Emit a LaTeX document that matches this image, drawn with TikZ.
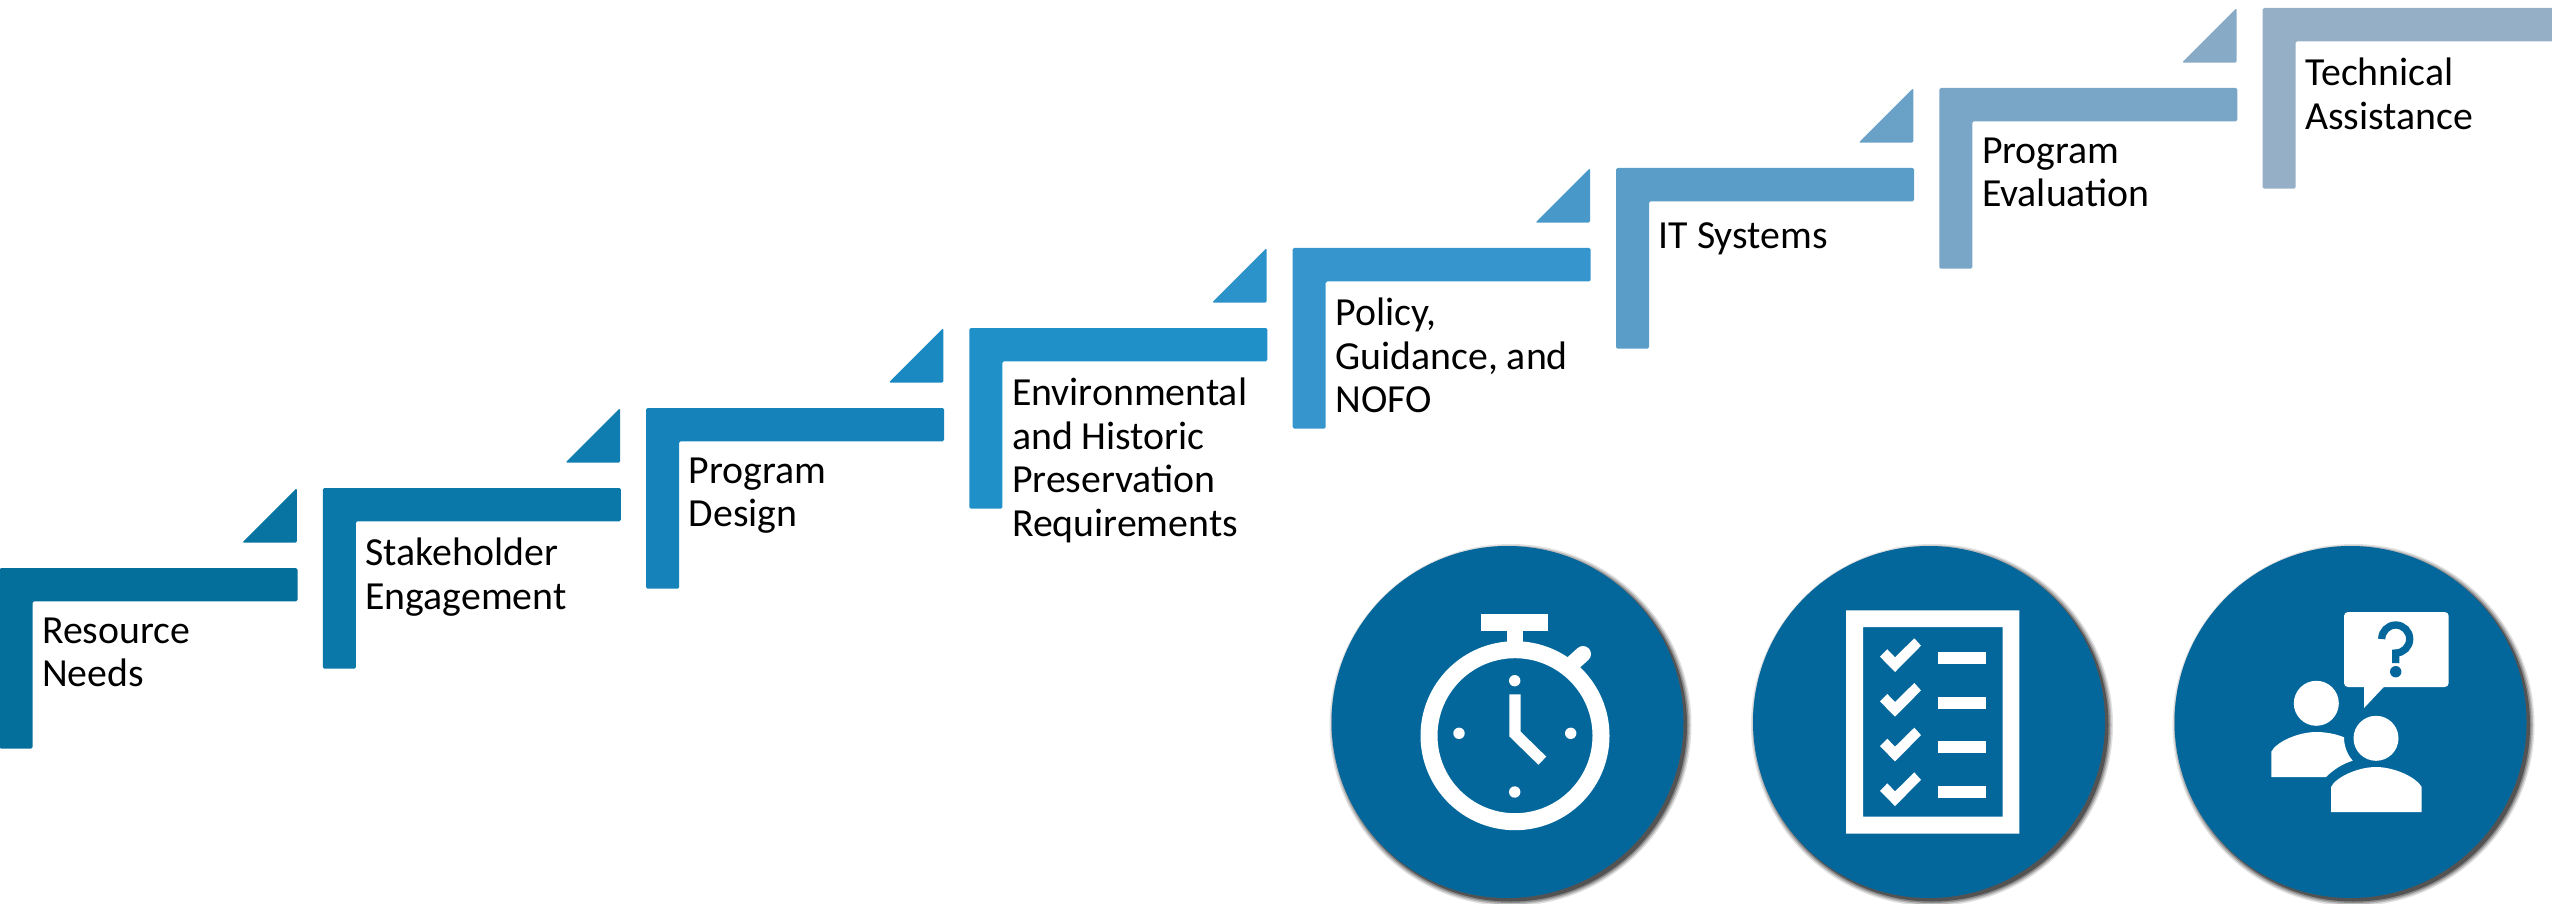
\documentclass[tikz,border=0pt]{standalone}
\usepackage{fontspec}
\usepackage{xcolor}
\setmainfont{Carlito}
\usetikzlibrary{positioning}
\definecolor{dialblue}{HTML}{03679C}
\definecolor{stepa}{HTML}{046F9A}
\definecolor{stepb}{HTML}{0A78A8}
\definecolor{stepc}{HTML}{1582B9}
\definecolor{stepd}{HTML}{2090C8}
\definecolor{stepe}{HTML}{3595CC}
\definecolor{stepf}{HTML}{5B9DC9}
\definecolor{stepg}{HTML}{79A5C6}
\definecolor{steph}{HTML}{95AFC6}
\tikzset{mystair/.style={rounded corners=1.5pt, draw=none},
mylabel/.style={anchor=north west, inner sep=0pt, align=left, execute at begin node=\strut,
font=\fontsize{39.8}{43.7}\selectfont},
mydial/.style={circle, fill=dialblue, inner sep=0pt, minimum size=352pt},
myicon/.style={fill=white, draw=none}}
\newcommand{\dialshadow}[2]{
	\foreach \r/\o in {181/.12, 179.5/.18, 178/.25, 176.5/.4}{
		\fill[black, opacity=\o] (#1+3,#2+3) circle[radius=\r];
	}
}
\begin{document}
\begin{tikzpicture}[x=1pt, y=-1pt]
	\useasboundingbox (0,0) rectangle (2552,904);
	\foreach \n/\c/\d/\txt in {0/stepa/stepa/{Resource\\Needs},
		1/stepb/stepa/{Stakeholder\\Engagement},
		2/stepc/stepb/{Program\\Design},
		3/stepd/stepc/{Environmental\\and Historic\\Preservation\\Requirements},
		4/stepe/stepd/{Policy,\\Guidance, and\\NOFO},
		5/stepf/stepe/{IT Systems},
		6/stepg/stepf/{Program\\Evaluation},
		7/steph/stepg/{Technical\\Assistance}}{
		\pgfmathsetmacro{\sx}{-0.5+323.3*\n}
		\pgfmathsetmacro{\sy}{568-80*\n}
		\fill[mystair, \c] (\sx,\sy) -- ++(298,0) -- ++(0,33.3) -- ++(-265,0) -- ++(0,147.4) -- ++(-33,0) -- cycle;
		\ifnum\n>0
			\fill[mystair, \d!50!\c] (\sx-26,\sy) -- ++(0,54.7) -- ++(-54.7,0) -- cycle;
		\fi
		\node[mylabel] (step\n) at (\sx+42.5,\sy+49.5) {\txt};
	}
	\dialshadow{1507.5}{722}
	\dialshadow{1929}{722}
	\dialshadow{2350.5}{722}
	\node[mydial] (clockdial) at (1507.5,722) {};
	\node[mydial] (listdial) at (1929,722) {};
	\node[mydial] (talkdial) at (2350.5,722) {};
	% stopwatch
	\draw[white, line width=17pt] (1515,735.7) circle[radius=86];
	\fill[myicon] (1481,614) rectangle (1548.3,630.7);
	\fill[myicon] (1506.7,630) rectangle (1522.7,645);
	\draw[white, line width=16pt, line cap=round] (1573,663) -- (1583,654);
	\foreach \x/\y in {1514.7/680.7, 1459/733.3, 1570.7/733.3, 1514.7/792}{
		\fill[myicon] (\x,\y) circle[radius=5.7];
	}
	\draw[white, line width=11.3pt, miter limit=10] (1515,694.3) -- (1515,734) -- (1542.3,760.7);
	% checklist
	\fill[myicon, even odd rule] (1846,610.3) rectangle (2019.3,833.7) (1863,627) rectangle (2002.7,816.7);
	\foreach \i in {0,1,2,3}{
		\fill[myicon, yshift=-44.7*\i] (1880,656.7) -- (1887.3,649.3) -- (1895,657.3) -- (1914.3,638.3) -- (1921,645.7) -- (1895,672) -- cycle;
		\fill[myicon, yshift=-44.7*\i] (1938,652) rectangle (1986,664);
	}
	% two people and a question
	\fill[myicon, rounded corners=4pt] (2344,612) -- (2448.7,612) -- (2448.7,687) -- (2344,687) -- cycle;
	\fill[myicon] (2364,686) -- (2364,708) -- (2384.7,686) -- cycle;
	\draw[dialblue, line width=7.3pt] (2381.7,639) arc (180:450:14) -- (2395.7,663);
	\fill[dialblue] (2395.7,671.7) circle[radius=5.7];
	\fill[myicon] (2316.3,703.3) circle[radius=22.5];
	\fill[myicon] (2271.3,777) -- (2271.3,751.7) .. controls (2276,742) and (2298,732) .. (2316.3,732) .. controls (2326,732) and (2336,734) .. (2344,737.3) .. controls (2344,746) and (2347,754) .. (2352.7,760.7) .. controls (2342,764) and (2333,770) .. (2326,777) -- cycle;
	\fill[myicon] (2376,738.3) circle[radius=22.5];
	\fill[myicon] (2331,812) -- (2331,787) .. controls (2336,777) and (2358,767) .. (2376,767) .. controls (2394,767) and (2416,777) .. (2421.7,787) -- (2421.7,812) -- cycle;
\end{tikzpicture}
\end{document}
